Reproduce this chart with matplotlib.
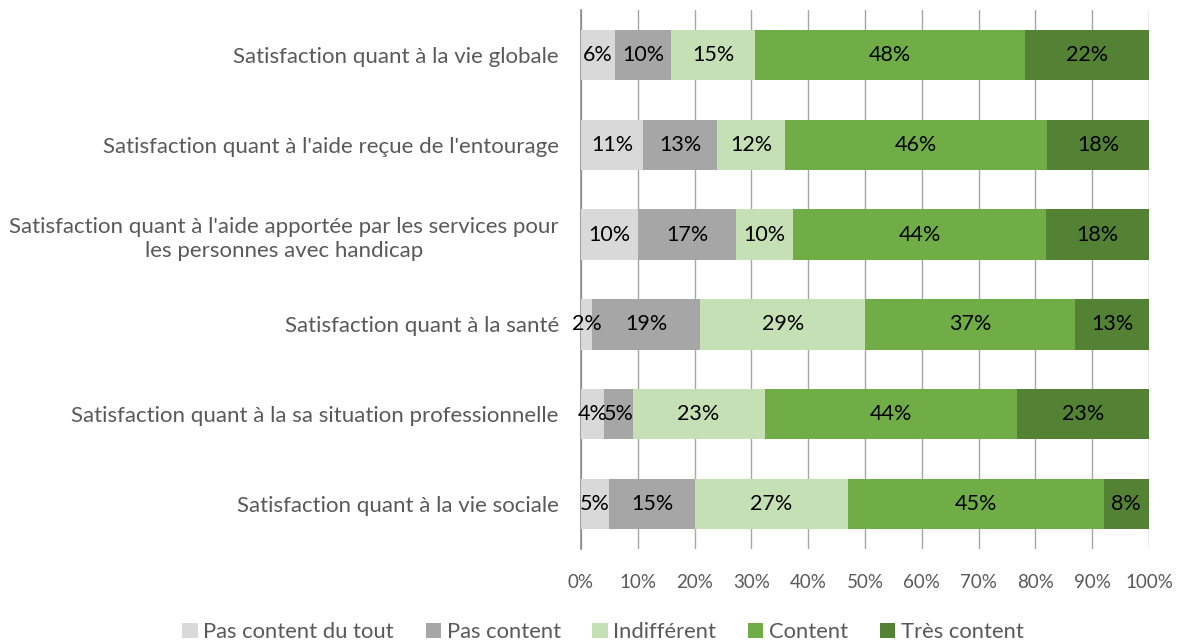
import matplotlib
matplotlib.use("Agg")
import matplotlib.pyplot as plt
from matplotlib.patches import Patch
import numpy as np

categories = [
    "Satisfaction quant à la vie globale",
    "Satisfaction quant à l'aide reçue de l'entourage",
    "Satisfaction quant à l'aide apportée par les services pour\nles personnes avec handicap",
    "Satisfaction quant à la santé",
    "Satisfaction quant à la sa situation professionnelle",
    "Satisfaction quant à la vie sociale",
]
series_names = ["Pas content du tout", "Pas content", "Indifférent", "Content", "Très content"]
pas_content_du_tout = [6, 11, 10, 2, 4, 5]
pas_content = [10, 13, 17, 19, 5, 15]
indifferent = [15, 12, 10, 29, 23, 27]
content = [48, 46, 44, 37, 44, 45]
tres_content = [22, 18, 18, 13, 23, 8]
xticklabels = ["0%", "10%", "20%", "30%", "40%", "50%", "60%", "70%", "80%", "90%", "100%"]

colors = ["#d9d9d9", "#a6a6a6", "#c5e0b4", "#70ad47", "#548235"]

plt.rcParams['font.family'] = ['Lato', 'DejaVu Sans']

data = np.array([pas_content_du_tout, pas_content, indifferent, content, tres_content], dtype=float)
totals = data.sum(axis=0)
shares = data / totals * 100

fig = plt.figure(figsize=(11.78, 6.42), dpi=100)
ax = fig.add_axes([581/1178, 1 - 549/642, (1149-581)/1178, 539/642])

y = np.arange(len(categories))
left = np.zeros(len(categories))
for i, name in enumerate(series_names):
    ax.barh(y, shares[i], left=left, height=0.56, color=colors[i], label=name, zorder=3)
    for j in range(len(categories)):
        ax.text(left[j] + shares[i][j] / 2, y[j], f"{int(data[i][j])}%", ha="center", va="center",
                fontsize=15.5, color="black", zorder=4)
    left += shares[i]

ax.set_xlim(0, 100)
ax.set_ylim(len(categories) - 0.5, -0.5)
ax.set_xticks(np.arange(0, 101, 10))
ax.set_xticklabels(xticklabels, fontsize=13.5, color="#595959")
ax.set_yticks(y)
ax.set_yticklabels(categories, fontsize=16, color="#595959", multialignment="center", linespacing=1.3)
ax.tick_params(axis="y", length=0, pad=16)
ax.tick_params(axis="x", length=0, pad=18)
ax.grid(axis="x", color="#a6a6a6", linewidth=1, zorder=0)
for s in ["top", "right", "bottom"]:
    ax.spines[s].set_visible(False)
ax.spines["left"].set_color("#8c8c8c")
ax.spines["left"].set_linewidth(1.2)

handles = [Patch(facecolor=c, edgecolor="none") for c in colors]
fig.legend(handles, series_names, loc="center", bbox_to_anchor=(603/1178, 1 - 632/642), ncol=5,
           frameon=False, fontsize=15.8, handlelength=0.7, handleheight=0.7, handletextpad=0.25,
           columnspacing=1.45, labelcolor="#595959", borderpad=0, borderaxespad=0)

fig.savefig("out.png", dpi=100)
